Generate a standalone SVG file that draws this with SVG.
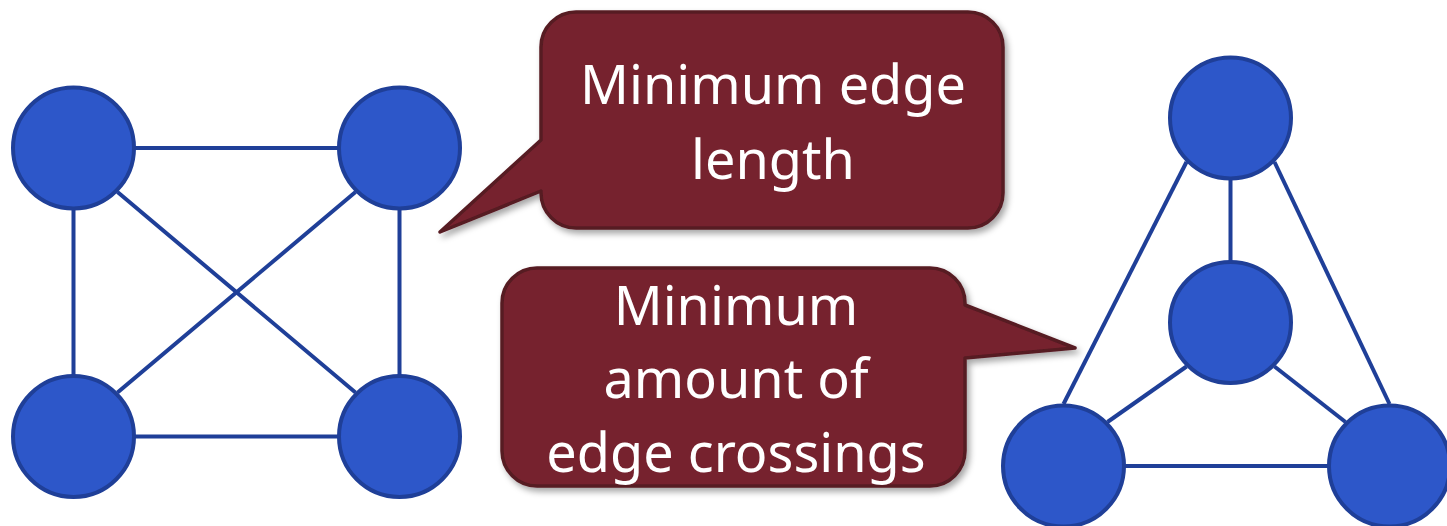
<svg xmlns="http://www.w3.org/2000/svg" width="1447" height="526" viewBox="0 0 1447 526">
<style>
.node{fill:#2D57C9;stroke:#1F3F98;stroke-width:4}
.edge{stroke:#1F3F98;stroke-width:4;fill:none}
.bubble{fill:#76232F;stroke:#571A23;stroke-width:3.5;stroke-linejoin:round}
.lbl{font-family:"Noto Sans","Open Sans",sans-serif;font-size:54px;fill:#FFFFFF;text-anchor:middle}
</style>
<defs>
<filter id="sh" x="-10%" y="-10%" width="125%" height="130%">
<feDropShadow dx="3" dy="4" stdDeviation="3" flood-color="#000" flood-opacity="0.35"/>
</filter>
</defs>
<rect width="1447" height="526" fill="#FFFFFF"/>
<g id="connectors">
<line class="edge" x1="73.5" y1="148" x2="399.5" y2="148"/>
<line class="edge" x1="73.5" y1="148" x2="73.5" y2="436.5"/>
<line class="edge" x1="399.5" y1="148" x2="399.5" y2="436.5"/>
<line class="edge" x1="73.5" y1="436.5" x2="399.5" y2="436.5"/>
<line class="edge" x1="117.5" y1="192" x2="355.5" y2="392.5"/>
<line class="edge" x1="355.5" y1="192" x2="117.5" y2="392.5"/>
<line class="edge" x1="1186.5" y1="162" x2="1063.5" y2="404"/>
<line class="edge" x1="1274.5" y1="162" x2="1389.5" y2="404"/>
<line class="edge" x1="1230.5" y1="118" x2="1230.5" y2="322.5"/>
<line class="edge" x1="1186.5" y1="366.5" x2="1107.5" y2="422"/>
<line class="edge" x1="1274.5" y1="366.5" x2="1345.5" y2="422"/>
<line class="edge" x1="1063.5" y1="466" x2="1389.5" y2="466"/>
</g>
<g id="n1"><circle class="node" cx="73.5" cy="148" r="60.5"/></g>
<g id="n2"><circle class="node" cx="399.5" cy="148" r="60.5"/></g>
<g id="n3"><circle class="node" cx="73.5" cy="436.5" r="60.5"/></g>
<g id="n4"><circle class="node" cx="399.5" cy="436.5" r="60.5"/></g>
<g id="n5"><circle class="node" cx="1230.5" cy="118" r="60.5"/></g>
<g id="n6"><circle class="node" cx="1230.5" cy="322.5" r="60.5"/></g>
<g id="n7"><circle class="node" cx="1063.5" cy="466" r="60.5"/></g>
<g id="n8"><circle class="node" cx="1389.5" cy="466" r="60.5"/></g>
<g id="callout1">
<path class="bubble" filter="url(#sh)" d="M576,12 H968 A35 35 0 0 1 1003,47 V193 A35 35 0 0 1 968,228 H576 A35 35 0 0 1 541,193 V191 L440,232 L541,140 V47 A35 35 0 0 1 576,12 Z"/>
<text class="lbl" x="773" y="104">Minimum edge</text>
<text class="lbl" x="773" y="179">length</text>
</g>
<g id="callout2">
<path class="bubble" filter="url(#sh)" d="M537,268 H930 A35 35 0 0 1 965,303 V305 L1075,348 L965,358 V451 A35 35 0 0 1 930,486 H537 A35 35 0 0 1 502,451 V303 A35 35 0 0 1 537,268 Z"/>
<text class="lbl" x="736" y="325">Minimum</text>
<text class="lbl" x="736" y="398">amount of</text>
<text class="lbl" x="736" y="472">edge crossings</text>
</g>
</svg>
